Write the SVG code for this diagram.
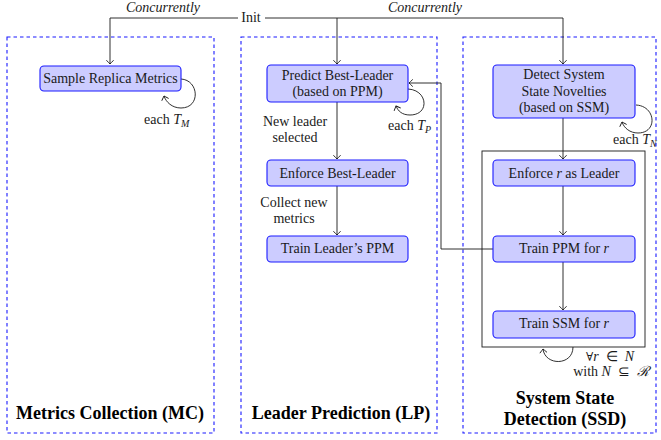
<svg xmlns="http://www.w3.org/2000/svg" width="661" height="440" viewBox="0 0 661 440">
<style>
.zone{fill:none;stroke:#1a1aff;stroke-width:1.1;stroke-dasharray:3.5,3}
.node{fill:#ccccff;stroke:#1a1aff;stroke-width:1.1}
.t{font-family:"Liberation Serif","Times New Roman",serif;font-size:14px;fill:#1a1a1a}
.c{text-anchor:middle}
.i{font-style:italic}
.b{font-family:"Liberation Serif","Times New Roman",serif;font-size:18px;font-weight:bold;fill:#000;text-anchor:middle}
.e{fill:none;stroke:#1a1a1a;stroke-width:0.9}
</style>
<defs>
<marker id="ah" viewBox="-5 -5 6 10" refX="0" refY="0" markerWidth="6" markerHeight="10" markerUnits="userSpaceOnUse" orient="auto" overflow="visible">
<path d="M-3.8,-3.6 Q-1,-1 0,0 Q-1,1 -3.8,3.6" fill="none" stroke="#1a1a1a" stroke-width="0.9"/>
</marker>
</defs>
<g id="zones">
<rect class="zone" x="7" y="37" width="207" height="396"/>
<rect class="zone" x="241" y="37" width="196" height="396"/>
<rect class="zone" x="463" y="37" width="193" height="396"/>
<rect x="482" y="151" width="163" height="196" fill="none" stroke="#1a1a1a" stroke-width="0.9"/>
</g>
<g id="connectors">
<path class="e" d="M238,18 H110 V64" marker-end="url(#ah)"/>
<path class="e" d="M265,18 H563 V64" marker-end="url(#ah)"/>
<path class="e" d="M337,18 V64" marker-end="url(#ah)"/>
<path class="e" d="M181,79 C199,80 201,108 181,108 C172,108 166,102 164,96" marker-end="url(#ah)"/>
<path class="e" d="M408,89 C428,90 430,115 410,115 C402,115 398,111 396,106" marker-end="url(#ah)"/>
<path class="e" d="M636,105 C656,106 658,133 638,133 C630,133 624,128 622,122" marker-end="url(#ah)"/>
<path class="e" d="M573,347 C573,366 545,366 543,349" marker-end="url(#ah)"/>
<path class="e" d="M337,102 V159" marker-end="url(#ah)"/>
<path class="e" d="M337,186 V235" marker-end="url(#ah)"/>
<path class="e" d="M563,118 V159" marker-end="url(#ah)"/>
<path class="e" d="M563,186 V235" marker-end="url(#ah)"/>
<path class="e" d="M563,262 V310" marker-end="url(#ah)"/>
<path class="e" d="M493,249 H441 V83 H409" marker-end="url(#ah)"/>
</g>
<g id="labels">
<text class="t c" x="251" y="22">Init</text>
<text class="t c i" x="163" y="11.5">Concurrently</text>
<text class="t c i" x="425" y="11.5">Concurrently</text>
<text class="t" x="144" y="124">each <tspan class="i">T</tspan><tspan class="i" font-size="10" dy="3">M</tspan></text>
<text class="t" x="388" y="130">each <tspan class="i">T</tspan><tspan class="i" font-size="10" dy="3">P</tspan></text>
<text class="t" x="613" y="144">each <tspan class="i">T</tspan><tspan class="i" font-size="10" dy="3">N</tspan></text>
<text class="t c" x="295" y="126">New leader</text>
<text class="t c" x="295" y="142">selected</text>
<text class="t c" x="294" y="207">Collect new</text>
<text class="t c" x="294" y="223">metrics</text>
<text class="t c" x="610" y="361" xml:space="preserve"><tspan font-family="DejaVu Serif" font-size="12">∀</tspan><tspan class="i">r</tspan>  ∈  <tspan class="i">N</tspan></text>
<text class="t c" x="611" y="376" xml:space="preserve">with <tspan class="i">N</tspan>  ⊆  <tspan class="i">ℛ</tspan></text>
<text class="b" x="110" y="419">Metrics Collection (MC)</text>
<text class="b" x="341" y="419">Leader Prediction (LP)</text>
<text class="b" x="565" y="404" font-size="17">System State</text>
<text class="b" x="565" y="424.5" font-size="17">Detection (SSD)</text>
</g>
<g id="n-sample">
<rect class="node" x="40" y="66" width="141" height="25" rx="4"/>
<text class="t c" x="110.5" y="83">Sample Replica Metrics</text>
</g>
<g id="n-predict">
<rect class="node" x="267" y="65" width="141" height="37" rx="4"/>
<text class="t c" x="337.5" y="79.5">Predict Best-Leader</text>
<text class="t c" x="337.5" y="95.5">(based on PPM)</text>
</g>
<g id="n-enforce-best">
<rect class="node" x="267" y="160" width="141" height="26" rx="4"/>
<text class="t c" x="337.5" y="178">Enforce Best-Leader</text>
</g>
<g id="n-train-leader">
<rect class="node" x="267" y="236" width="141" height="26" rx="4"/>
<text class="t c" x="337.5" y="253">Train Leader’s PPM</text>
</g>
<g id="n-detect">
<rect class="node" x="493" y="65" width="142" height="53" rx="4"/>
<text class="t c" x="564" y="79">Detect System</text>
<text class="t c" x="564" y="95.5">State Novelties</text>
<text class="t c" x="564" y="111.5">(based on SSM)</text>
</g>
<g id="n-enforce-r">
<rect class="node" x="493" y="160" width="142" height="26" rx="4"/>
<text class="t c" x="564" y="178">Enforce <tspan class="i">r</tspan> as Leader</text>
</g>
<g id="n-train-ppm">
<rect class="node" x="493" y="236" width="142" height="26" rx="4"/>
<text class="t c" x="564" y="253">Train PPM for <tspan class="i">r</tspan></text>
</g>
<g id="n-train-ssm">
<rect class="node" x="493" y="311" width="142" height="27" rx="4"/>
<text class="t c" x="564" y="328">Train SSM for <tspan class="i">r</tspan></text>
</g>
</svg>
